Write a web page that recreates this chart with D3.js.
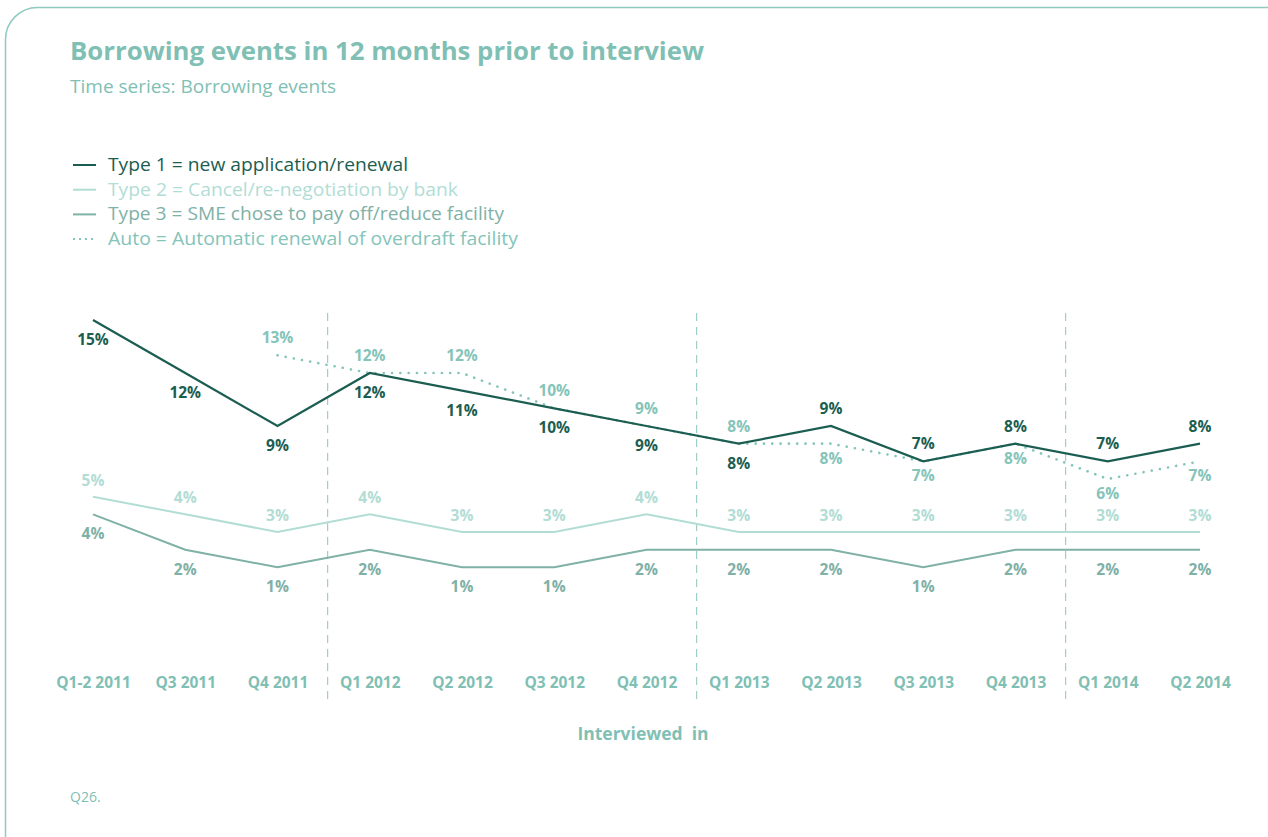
<!DOCTYPE html>
<html>
<head>
<meta charset="utf-8">
<script src="https://cdn.jsdelivr.net/npm/d3@7"></script>
<style>
  html, body { margin: 0; padding: 0; background: #fff; }
  svg { display: block; font-family: "Open Sans", "Noto Sans", sans-serif; }
</style>
</head>
<body>
<svg id="chart" width="1268" height="837"></svg>
<script>
// Interview periods
const periods = ["Q1-2 2011", "Q3 2011", "Q4 2011", "Q1 2012", "Q2 2012", "Q3 2012", "Q4 2012",
                 "Q1 2013", "Q2 2013", "Q3 2013", "Q4 2013", "Q1 2014", "Q2 2014"];

// Share of SMEs reporting each borrowing event (%)
const type1 = [15, 12, 9, 12, 11, 10, 9, 8, 9, 7, 8, 7, 8];
const type2 = [5, 4, 3, 4, 3, 3, 4, 3, 3, 3, 3, 3, 3];
const type3 = [4, 2, 1, 2, 1, 1, 2, 2, 2, 1, 2, 2, 2];
const auto  = [null, null, 13, 12, 12, 10, 9, 8, 8, 7, 8, 6, 7];

// Year boundaries drawn as dashed separators (after these periods)
const yearEnds = ["Q4 2011", "Q4 2012", "Q4 2013"];

const legendLabels = [
  "Type 1 = new application/renewal",
  "Type 2 = Cancel/re-negotiation by bank",
  "Type 3 = SME chose to pay off/reduce facility",
  "Auto = Automatic renewal of overdraft facility"
];

const C = {
  title: "#80bfb4",
  t1: "#1b5e51",
  t2: "#b2ddd5",
  t3: "#7fb1a7",
  auto: "#85c4b9",
  sep: "#9fcfc6",
  frame: "#8fcac1"
};

const svg = d3.select("#chart");

// Rounded frame
svg.append("rect")
  .attr("x", 5.5).attr("y", 7.5)
  .attr("width", 1300).attr("height", 860)
  .attr("rx", 32).attr("ry", 32)
  .attr("fill", "none")
  .attr("stroke", C.frame)
  .attr("stroke-width", 1.5);

// Titles
svg.append("text")
  .attr("x", 70).attr("y", 60)
  .attr("fill", C.title)
  .attr("font-size", 25.5).attr("font-weight", 700)
  .attr("textLength", 634).attr("lengthAdjust", "spacingAndGlyphs")
  .text("Borrowing events in 12 months prior to interview");

svg.append("text")
  .attr("x", 70).attr("y", 93)
  .attr("fill", C.title)
  .attr("font-size", 18)
  .attr("textLength", 266).attr("lengthAdjust", "spacingAndGlyphs")
  .text("Time series: Borrowing events");

// Legend
const legendStyles = [
  { color: C.t1, dash: null },
  { color: C.t2, dash: null },
  { color: C.t3, dash: null },
  { color: C.auto, dash: "2,4" }
];
const legendWidths = [300, 350, 396, 410];
const lg = svg.append("g");
legendLabels.forEach((lab, i) => {
  const y = 165 + i * 24.7;
  lg.append("line")
    .attr("x1", 73).attr("x2", 96)
    .attr("y1", y).attr("y2", y)
    .attr("stroke", legendStyles[i].color)
    .attr("stroke-width", 2)
    .attr("stroke-dasharray", legendStyles[i].dash);
  lg.append("text")
    .attr("x", 108).attr("y", y + 6)
    .attr("fill", legendStyles[i].color)
    .attr("font-size", 18)
    .attr("textLength", legendWidths[i]).attr("lengthAdjust", "spacingAndGlyphs")
    .text(lab);
});

// Scales
const x = d3.scalePoint().domain(periods).range([93, 1200]);
const y = d3.scaleLinear().domain([0, 15]).range([585, 320]);
const step = x.step();

// Year separators
svg.append("g").selectAll("line")
  .data(yearEnds)
  .join("line")
  .attr("x1", d => x(d) + step / 2 + 4)
  .attr("x2", d => x(d) + step / 2 + 4)
  .attr("y1", 313).attr("y2", 700)
  .attr("stroke", C.sep)
  .attr("stroke-width", 1.2)
  .attr("stroke-dasharray", "8,6");

// X axis labels
const xAxis = d3.axisBottom(x).tickSize(0).tickPadding(0);
const gx = svg.append("g").attr("transform", "translate(0,688)").call(xAxis);
gx.select(".domain").remove();
gx.selectAll("text")
  .attr("fill", C.title)
  .attr("font-size", 15.5)
  .attr("font-weight", 700)
  .attr("dy", 0)
  .attr("font-family", "'Open Sans', sans-serif");

svg.append("text")
  .attr("x", 643).attr("y", 740)
  .attr("text-anchor", "middle")
  .attr("fill", C.title)
  .attr("font-size", 17.5).attr("font-weight", 700)
  .attr("xml:space", "preserve")
  .text("Interviewed  in");

svg.append("text")
  .attr("x", 70).attr("y", 802)
  .attr("fill", C.title)
  .attr("font-size", 14)
  .text("Q26.");

// Lines
const line = d3.line()
  .defined(d => d.v != null)
  .x(d => x(d.p))
  .y(d => y(d.v));

const toPts = arr => periods.map((p, i) => ({ p, v: arr[i] }));

const series = [
  { vals: type2, color: C.t2, width: 2, dash: null },
  { vals: type3, color: C.t3, width: 2, dash: null },
  { vals: auto, color: C.auto, width: 2.6, dash: "0.1,8.2", cap: "round" },
  { vals: type1, color: C.t1, width: 2.2, dash: null }
];

series.forEach(s => {
  svg.append("path")
    .datum(toPts(s.vals))
    .attr("d", line)
    .attr("fill", "none")
    .attr("stroke", s.color)
    .attr("stroke-width", s.width)
    .attr("stroke-linecap", s.cap || "butt")
    .attr("stroke-linejoin", "miter")
    .attr("stroke-dasharray", s.dash);
});

// Value labels: +1 places the label below the point, -1 above
const t1Side = [1, 1, 1, 1, 1, 1, 1, 1, -1, -1, -1, -1, -1];
const autoSide = [0, 0, -1, -1, -1, -1, -1, -1, 1, 1, 1, 1, 1];

function labels(vals, sides, color, offAbove, offBelow) {
  svg.append("g").selectAll("text")
    .data(periods.map((p, i) => ({ p, v: vals[i], s: sides[i] })).filter(d => d.v != null))
    .join("text")
    .attr("x", d => x(d.p))
    .attr("y", d => y(d.v) + (d.s > 0 ? offBelow : -offAbove))
    .attr("text-anchor", "middle")
    .attr("fill", color)
    .attr("font-size", 15.5)
    .attr("font-weight", 700)
    .text(d => d.v + "%");
}

labels(type1, t1Side, C.t1, 12, 25);
labels(auto, autoSide, C.auto, 12, 20);
labels(type2, periods.map(() => -1), C.t2, 11, 0);
labels(type3, periods.map(() => 1), C.t3, 0, 25);
</script>
</body>
</html>
